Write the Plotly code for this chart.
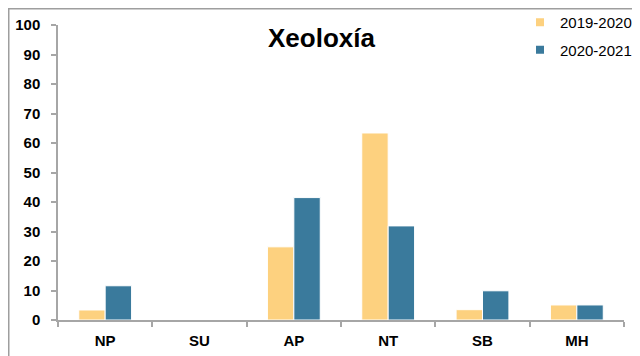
import plotly.graph_objects as go

categories = ["NP", "SU", "AP", "NT", "SB", "MH"]
series_2019_2020 = [3.4, 0, 24.8, 63.4, 3.5, 5.1]
series_2020_2021 = [11.6, 0, 41.5, 31.9, 9.9, 5.1]
series_names = ["2019-2020", "2020-2021"]
y_ticks = [0, 10, 20, 30, 40, 50, 60, 70, 80, 90, 100]

ORANGE = "#FDD17F"
BLUE = "#3A7A9C"
AXIS = "#A6A6A6"
FONT = "Liberation Sans, Arial, sans-serif"

OFF = 8  # page body margin
W, H = 640 - OFF, 356 - OFF
L, R, T, B = 58 - OFF, 16, 25 - OFF, 36
pw, ph = W - L - R, H - T - B

def px_x(x):
    return (x - OFF - L) / pw

def px_y(y):
    return (H - B - (y - OFF)) / ph

fig = go.Figure()
for name, vals, col in [(series_names[0], series_2019_2020, ORANGE),
                        (series_names[1], series_2020_2021, BLUE)]:
    fig.add_trace(go.Bar(
        x=categories, y=vals, name=name, showlegend=False,
        marker=dict(color=col, line=dict(color="white", width=1)),
    ))
# legend entries with small square markers
for i, (name, col) in enumerate([(series_names[0], ORANGE), (series_names[1], BLUE)]):
    fig.add_trace(go.Scatter(
        x=[None], y=[None], mode="markers", name=name,
        legendgroup=f"g{i}",
        marker=dict(symbol="square", size=8, color=col),
    ))

fig.update_layout(
    width=W, height=H,
    margin=dict(l=L, r=R, t=T, b=B, autoexpand=False),
    paper_bgcolor="white", plot_bgcolor="white",
    barmode="group", bargap=0.44, bargroupgap=0,
    showlegend=True,
    legend=dict(
        x=px_x(520), y=px_y(6), xanchor="left", yanchor="top",
        font=dict(family=FONT, size=15, color="black"),
        tracegroupgap=5, bgcolor="rgba(0,0,0,0)",
    ),
    annotations=[dict(
        text="Xeoloxía", x=px_x(321.5), y=px_y(38), xref="paper", yref="paper",
        showarrow=False, xanchor="center", yanchor="middle",
        font=dict(family=FONT, size=26, color="black", weight="bold"),
    )],
    shapes=[dict(
        type="rect", xref="paper", yref="paper",
        x0=px_x(OFF + 0.75), x1=px_x(700), y0=px_y(400), y1=px_y(OFF + 0.75),
        line=dict(color="#9E9E9E", width=1.5), layer="below",
    )],
)

fig.update_xaxes(
    type="category", showline=True, linecolor=AXIS, linewidth=1.5,
    ticks="outside", tickson="boundaries", ticklen=5, tickcolor=AXIS, tickwidth=1.5,
    showgrid=False, zeroline=False,
    tickfont=dict(family=FONT, size=15, color="black", weight="bold"),
    ticklabelstandoff=6,
)
fig.update_yaxes(
    range=[0, 100], tickvals=y_ticks,
    showline=True, linecolor=AXIS, linewidth=1.5,
    ticks="outside", ticklen=5, tickcolor=AXIS, tickwidth=1.5,
    showgrid=False, zeroline=False,
    tickfont=dict(family=FONT, size=15, color="black", weight="bold"),
    ticklabelstandoff=8,
)

fig.write_html("out.html")
